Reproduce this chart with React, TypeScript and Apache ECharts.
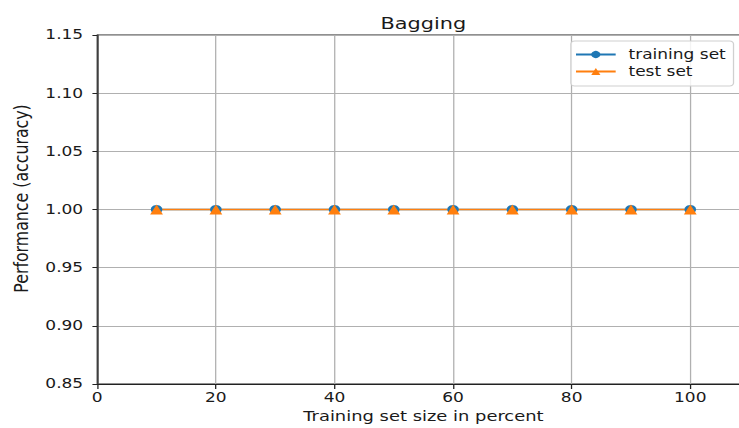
import React, { useEffect, useRef } from "react";
import * as echarts from "echarts";

const sizes = [10, 20, 30, 40, 50, 60, 70, 80, 90, 100];
const trainAcc = [1.0, 1.0, 1.0, 1.0, 1.0, 1.0, 1.0, 1.0, 1.0, 1.0];
const testAcc = [1.0, 1.0, 1.0, 1.0, 1.0, 1.0, 1.0, 1.0, 1.0, 1.0];
const seriesNames = ["training set", "test set"];

const FONT = "DejaVu Sans";
const STRETCH = 1.28; // the reference picture is stretched horizontally
const INNER_W = 586;
const H = 428;

export default function App() {
  const ref = useRef<HTMLDivElement>(null);
  useEffect(() => {
    if (!ref.current) return;
    const chart = echarts.init(ref.current, undefined, { renderer: "svg" });
    chart.setOption({
      animation: false,
      title: {
        text: "Bagging",
        left: 325.8,
        top: 10,
        textAlign: "center",
        textStyle: { fontFamily: FONT, fontSize: 16.3, fontWeight: "normal", color: "#1a1a1a" },
      },
      grid: {
        left: 74.2,
        top: 35,
        bottom: 41.5,
        right: 0.4,
        show: true,
        borderColor: "#222",
        borderWidth: 1,
        containLabel: false,
      },
      legend: {
        orient: "vertical",
        left: 446,
        top: 41,
        itemWidth: 31,
        itemHeight: 9,
        itemGap: 4,
        padding: [7, 6, 8, 3],
        backgroundColor: "rgba(255,255,255,0.85)",
        borderColor: "#d0d0d0",
        borderWidth: 1,
        borderRadius: 3,
        textStyle: { fontFamily: FONT, fontSize: 13.3, color: "#1a1a1a", padding: [0, 0, 0, 5] },
        data: seriesNames,
      },
      xAxis: {
        type: "value",
        min: 0,
        max: 110,
        interval: 20,
        name: "Training set size in percent",
        nameLocation: "middle",
        nameGap: 25,
        nameTextStyle: { fontFamily: FONT, fontSize: 14, color: "#1a1a1a" },
        axisLine: { show: true, lineStyle: { color: "#222", width: 1 } },
        axisTick: { show: true, length: 5, lineStyle: { color: "#222" } },
        axisLabel: { fontFamily: FONT, fontSize: 13.3, color: "#1a1a1a", margin: 7, showMaxLabel: false },
        splitLine: { show: true, lineStyle: { color: "#b0b0b0", width: 1 } },
      },
      yAxis: {
        type: "value",
        min: 0.85,
        max: 1.15,
        interval: 0.05,
        name: "Performance (accuracy)",
        nameLocation: "middle",
        nameGap: 52,
        nameTextStyle: { fontFamily: FONT, fontSize: 15.8, color: "#1a1a1a", padding: [0, 0, 0, 22] },
        axisLine: { show: true, lineStyle: { color: "#222", width: 1 } },
        axisTick: { show: true, length: 3.8, lineStyle: { color: "#222" } },
        axisLabel: {
          fontFamily: FONT,
          fontSize: 13.3,
          color: "#1a1a1a",
          margin: 11,
          formatter: (v: number) => v.toFixed(2),
        },
        splitLine: { show: true, lineStyle: { color: "#b0b0b0", width: 1 } },
      },
      series: [
        {
          name: seriesNames[0],
          type: "line",
          data: sizes.map((s, i) => [s, trainAcc[i]]),
          symbol: "circle",
          symbolSize: 9,
          itemStyle: { color: "#1f77b4" },
          lineStyle: { color: "#1f77b4", width: 1.5 },
        },
        {
          name: seriesNames[1],
          type: "line",
          data: sizes.map((s, i) => [s, testAcc[i]]),
          symbol: "triangle",
          symbolSize: 10,
          itemStyle: { color: "#ff7f0e" },
          lineStyle: { color: "#ff7f0e", width: 1.5 },
        },
      ],
    });
    return () => chart.dispose();
  }, []);
  return (
    <div style={{ position: "absolute", left: 0, top: 0, width: 739, height: H, overflow: "hidden", background: "#fff" }}>
      <div
        ref={ref}
        style={{ width: INNER_W, height: H, transform: `scaleX(${STRETCH})`, transformOrigin: "0 0" }}
      />
    </div>
  );
}
